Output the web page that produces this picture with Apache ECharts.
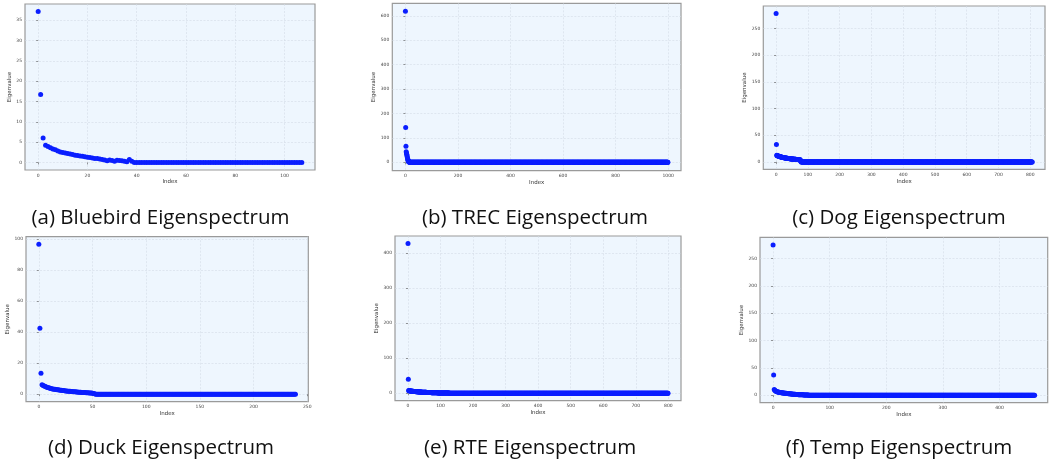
<!DOCTYPE html>
<html>
<head>
<meta charset="utf-8">
<script src="https://cdn.jsdelivr.net/npm/echarts@6/dist/echarts.min.js"></script>
<style>
html,body{margin:0;padding:0;background:#fff;}
#chart{width:1051px;height:466px;}
</style>
</head>
<body>
<div id="chart"></div>
<script>
// ---- Data ----
// Leading eigenvalues (sorted), followed by the remaining eigenvalues which read as ~0.
const bluebirdHead = [37.1, 16.7, 6.0, 4.2, 3.9, 3.6, 3.3, 3.1, 2.8, 2.6, 2.45, 2.3, 2.2, 2.05, 1.95, 1.8, 1.7, 1.6, 1.5, 1.4, 1.3, 1.2, 1.1, 1.0, 0.95, 0.85, 0.75, 0.6, 0.45, 0.6, 0.5, 0.3, 0.55, 0.5, 0.4, 0.3, 0.2, 0.7, 0.3];
const bluebirdCount = 108;

const trecHead = [618, 143, 66, 43, 38, 33, 28, 22, 17, 12, 8, 5, 3, 2, 1.5, 1, 0.8, 0.6, 0.5, 0.4];
const trecCount = 1000;

const dogHead = [278, 32.5,
  12.5, 12.0, 11.6, 11.3, 11.0, 10.8, 10.6, 10.4, 10.2,
  10.0, 9.8, 9.6, 9.4, 9.2, 9.0, 8.9, 8.7, 8.6, 8.4,
  8.3, 8.1, 8.0, 7.9, 7.7, 7.6, 7.5, 7.4, 7.3, 7.2,
  7.1, 7.0, 6.9, 6.8, 6.7, 6.6, 6.5, 6.4, 6.3, 6.2,
  6.1, 6.0, 5.9, 5.9, 5.8, 5.7, 5.6, 5.6, 5.5, 5.4,
  5.4, 5.3, 5.2, 5.2, 5.1, 5.0, 5.0, 4.9, 4.8, 4.8,
  4.7, 4.7, 4.6, 4.5, 4.5, 4.4, 4.4, 4.3, 4.3, 4.2,
  4.2, 4.1, 4.1, 4.0, 3.9, 3.8, 2.0, 1.0];
const dogCount = 807;

const duckHead = [96.5, 42.5, 13.5, 6.0, 5.6, 5.2, 4.9, 4.6, 4.3, 4.1, 3.9, 3.7, 3.5, 3.4, 3.2, 3.1, 3.0, 2.9, 2.8, 2.7, 2.6, 2.5, 2.4, 2.3, 2.2, 2.1, 2.0, 1.95, 1.9, 1.8, 1.75, 1.7, 1.6, 1.55, 1.5, 1.45, 1.4, 1.3, 1.25, 1.2, 1.15, 1.1, 1.05, 1.0, 0.95, 0.9, 0.85, 0.8, 0.75, 0.7, 0.6, 0.4, 0.2];
const duckCount = 240;

const rteHead = [428, 40,
  7.5, 7.2, 7.0, 6.8, 6.6, 6.5, 6.3, 6.2, 6.0, 5.9,
  5.8, 5.6, 5.5, 5.4, 5.3, 5.2, 5.1, 5.0, 4.9, 4.8,
  4.7, 4.6, 4.5, 4.4, 4.3, 4.2, 4.1, 4.0, 3.95, 3.9,
  3.8, 3.7, 3.65, 3.6, 3.5, 3.45, 3.4, 3.3, 3.25, 3.2,
  3.1, 3.05, 3.0, 2.95, 2.9, 2.85, 2.8, 2.75, 2.7, 2.65,
  2.6, 2.55, 2.5, 2.45, 2.4, 2.35, 2.3, 2.25, 2.2, 2.15,
  2.1, 2.05, 2.0, 1.95, 1.9, 1.85, 1.8, 1.78, 1.75, 1.7,
  1.65, 1.6, 1.58, 1.55, 1.5, 1.45, 1.42, 1.4, 1.35, 1.3,
  1.28, 1.25, 1.2, 1.18, 1.15, 1.1, 1.08, 1.05, 1.0, 0.98,
  0.95, 0.92, 0.9, 0.88, 0.85, 0.82, 0.8, 0.78, 0.75, 0.72,
  0.7, 0.68, 0.66, 0.64, 0.62, 0.6, 0.58, 0.56, 0.54, 0.52,
  0.5, 0.48, 0.46, 0.44, 0.42, 0.4, 0.38, 0.36, 0.34, 0.32,
  0.3, 0.29, 0.28, 0.27, 0.26, 0.25, 0.24, 0.23, 0.22, 0.21,
  0.2, 0.19, 0.18, 0.17, 0.16, 0.15, 0.14, 0.13, 0.12, 0.11,
  0.1, 0.09, 0.08, 0.07, 0.06, 0.05, 0.04, 0.03, 0.02, 0.01];
const rteCount = 800;

const tempHead = [275, 37, 10.5, 9.0, 8.0, 7.3, 6.8, 6.4, 6.0, 5.7, 5.4, 5.2, 5.0, 4.8, 4.6, 4.4, 4.3, 4.1, 4.0, 3.8, 3.7, 3.5, 3.4, 3.3, 3.1, 3.0, 2.9, 2.8, 2.6, 2.5, 2.4, 2.3, 2.2, 2.1, 2.0, 1.9, 1.8, 1.7, 1.6, 1.5, 1.4, 1.3, 1.2, 1.1, 1.0, 0.95, 0.9, 0.85, 0.8, 0.75, 0.7, 0.65, 0.6, 0.55, 0.5, 0.45, 0.4, 0.35, 0.3, 0.25, 0.2, 0.15, 0.1];
const tempCount = 463;

// Tick labels
const bluebirdXTicks = [0, 20, 40, 60, 80, 100];
const bluebirdYTicks = [0, 5, 10, 15, 20, 25, 30, 35];
const trecXTicks = [0, 200, 400, 600, 800, 1000];
const trecYTicks = [0, 100, 200, 300, 400, 500, 600];
const dogXTicks = [0, 100, 200, 300, 400, 500, 600, 700, 800];
const dogYTicks = [0, 50, 100, 150, 200, 250];
const duckXTicks = [0, 50, 100, 150, 200, 250];
const duckYTicks = [0, 20, 40, 60, 80, 100];
const rteXTicks = [0, 100, 200, 300, 400, 500, 600, 700, 800];
const rteYTicks = [0, 100, 200, 300, 400];
const tempXTicks = [0, 100, 200, 300, 400];
const tempYTicks = [0, 50, 100, 150, 200, 250];

const captions = ['(a) Bluebird Eigenspectrum', '(b) TREC Eigenspectrum', '(c) Dog Eigenspectrum',
                  '(d) Duck Eigenspectrum', '(e) RTE Eigenspectrum', '(f) Temp Eigenspectrum'];

// ---- Build ----
function spectrum(head, count) {
  const out = [];
  for (let i = 0; i < count; i++) {
    out.push([i, i < head.length ? head[i] : 0]);
  }
  return out;
}

const panels = [
  {data: spectrum(bluebirdHead, bluebirdCount), xt: bluebirdXTicks, yt: bluebirdYTicks,
   box: [25, 4, 290, 166], xr: [-5.35, 112.35], yr: [-1.855, 38.96], cap: [160.5, 218]},
  {data: spectrum(trecHead, trecCount), xt: trecXTicks, yt: trecYTicks,
   box: [392.3, 3.3, 288.7, 167.4], xr: [-49.95, 1048.95], yr: [-34.3, 651], cap: [535, 218]},
  {data: spectrum(dogHead, dogCount), xt: dogXTicks, yt: dogYTicks,
   box: [763.3, 6, 281.7, 163.3], xr: [-40.3, 846.3], yr: [-13.9, 291.9], cap: [899, 218]},
  {data: spectrum(duckHead, duckCount), xt: duckXTicks, yt: duckYTicks,
   box: [26, 236.7, 282.3, 165], xr: [-11.95, 250.95], yr: [-4.85, 101.35], cap: [161, 448]},
  {data: spectrum(rteHead, rteCount), xt: rteXTicks, yt: rteYTicks,
   box: [395, 236, 286, 164.7], xr: [-39.95, 838.95], yr: [-21.4, 449.4], cap: [530, 448]},
  {data: spectrum(tempHead, tempCount), xt: tempXTicks, yt: tempYTicks,
   box: [760, 237.3, 287.7, 165.4], xr: [-23.1, 485.1], yr: [-13.8, 289.3], cap: [899, 448]}
];

const FONT = 'DejaVu Sans';
const grids = [], xAxes = [], yAxes = [], series = [], graphics = [];
panels.forEach((p, i) => {
  grids.push({
    left: p.box[0], top: p.box[1], width: p.box[2], height: p.box[3],
    show: true, backgroundColor: '#eef6fe', borderColor: '#9a9a9a', borderWidth: 1.2,
    containLabel: false
  });
  const common = {
    type: 'value', gridIndex: i,
    axisLine: {show: false},
    axisTick: {show: true, length: 2, lineStyle: {color: '#555', width: 0.6}},
    axisLabel: {fontSize: 4.5, color: '#444', fontFamily: FONT, margin: 3,
                formatter: v => String(v)},
    splitLine: {show: true, lineStyle: {color: '#d3dbe6', width: 0.6, type: [2, 1.5]}},
    nameLocation: 'middle',
    nameTextStyle: {fontSize: 5.5, color: '#333', fontFamily: FONT}
  };
  xAxes.push(Object.assign({}, common, {
    min: p.xr[0], max: p.xr[1], name: 'Index', nameGap: 9,
    axisTick: Object.assign({}, common.axisTick, {customValues: p.xt}),
    axisLabel: Object.assign({}, common.axisLabel, {customValues: p.xt})
  }));
  yAxes.push(Object.assign({}, common, {
    min: p.yr[0], max: p.yr[1], name: 'Eigenvalue', nameGap: 11,
    axisTick: Object.assign({}, common.axisTick, {customValues: p.yt}),
    axisLabel: Object.assign({}, common.axisLabel, {customValues: p.yt})
  }));
  series.push({
    type: 'scatter', xAxisIndex: i, yAxisIndex: i, data: p.data,
    symbolSize: 5, itemStyle: {color: '#0a1eff', opacity: 1},
    silent: true, animation: false
  });
  graphics.push({
    type: 'text', x: p.cap[0], y: p.cap[1],
    style: {text: captions[i], fontSize: 20.5, fontFamily: 'Open Sans', fill: '#111',
            textAlign: 'center', textVerticalAlign: 'middle'}
  });
});

const chart = echarts.init(document.getElementById('chart'), null, {renderer: 'canvas'});
chart.setOption({
  animation: false,
  backgroundColor: '#ffffff',
  grid: grids, xAxis: xAxes, yAxis: yAxes, series: series, graphic: graphics
});
</script>
</body>
</html>
